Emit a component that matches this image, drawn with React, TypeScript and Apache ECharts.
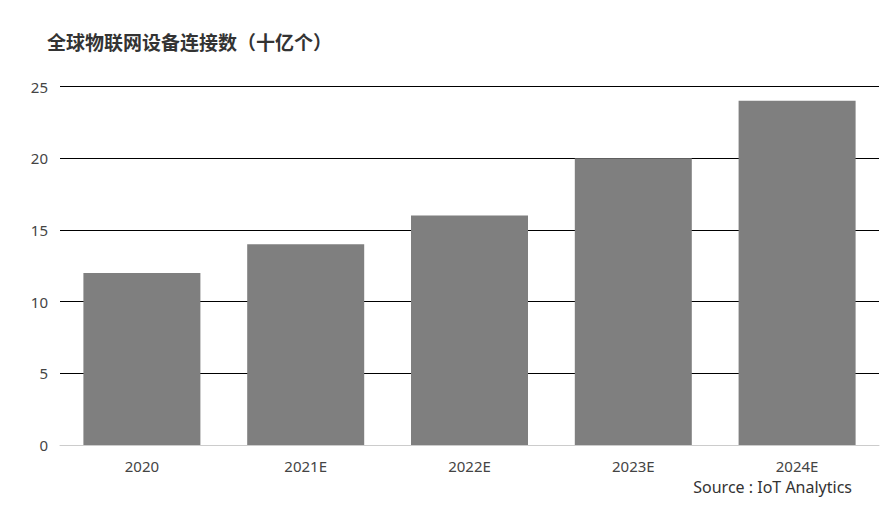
import React, { useEffect, useRef } from "react";
import * as echarts from "echarts";

const categories = ["2020", "2021E", "2022E", "2023E", "2024E"];
const values = [12, 14, 16, 20, 24];
const titleText = "全球物联网设备连接数（十亿个）";
const sourceText = "Source : IoT Analytics";

export default function App() {
  const ref = useRef<HTMLDivElement>(null);
  useEffect(() => {
    document.body.style.margin = "0";
    const chart = echarts.init(ref.current!, undefined, { renderer: "svg" });
    chart.setOption({
      animation: false,
      backgroundColor: "#ffffff",
      title: {
        text: titleText,
        left: 42,
        top: 27,
        textStyle: {
          fontFamily: "Noto Sans CJK SC",
          fontWeight: "bold",
          fontSize: 19,
          color: "#333333",
        },
      },
      graphic: [
        {
          type: "text",
          right: 33,
          top: 479,
          style: {
            text: sourceText,
            fontFamily: "Noto Sans",
            fontSize: 16,
            fill: "#333333",
          },
        },
      ],
      grid: { left: 60, right: 6, top: 86.5, bottom: 65 },
      xAxis: {
        type: "category",
        data: categories,
        axisTick: { show: false },
        axisLine: { lineStyle: { color: "#cccccc" } },
        axisLabel: {
          margin: 13,
          fontSize: 15,
          fontFamily: "Noto Sans",
          color: "#444444",
        },
      },
      yAxis: {
        type: "value",
        min: 0,
        max: 25,
        interval: 5,
        axisLabel: {
          margin: 12,
          fontSize: 15,
          fontFamily: "Noto Sans",
          color: "#444444",
        },
        splitLine: { lineStyle: { color: "#000000", width: 1 } },
      },
      series: [
        {
          type: "bar",
          data: values,
          barWidth: 117,
          itemStyle: { color: "#7f7f7f" },
        },
      ],
    });
    return () => chart.dispose();
  }, []);
  return <div ref={ref} style={{ width: 885, height: 510 }} />;
}
